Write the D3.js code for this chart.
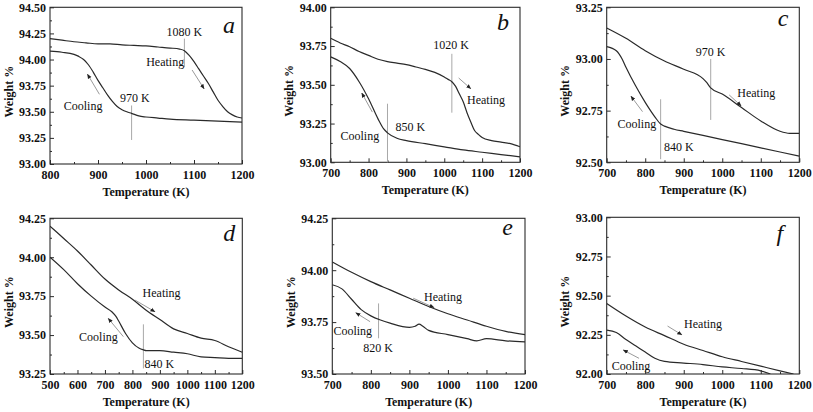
<!DOCTYPE html>
<html>
<head>
<meta charset="utf-8">
<script src="https://cdn.jsdelivr.net/npm/d3@7"></script>
<style>
  html, body { margin: 0; padding: 0; background: #fff; }
  svg { display: block; }
</style>
</head>
<body>
<svg id="chart" width="813" height="412"></svg>
<script>
// ---------------- DATA ----------------
const panelLetters = ['a', 'b', 'c', 'd', 'e', 'f'];
const xDomains = [[800, 1200], [700, 1200], [700, 1200], [500, 1200], [700, 1200], [700, 1200]];
const yDomains = [[93.0, 94.5], [93.0, 94.0], [92.5, 93.25], [93.25, 94.25], [93.5, 94.25], [92.0, 93.0]];
const xTicks = [
  [800, 900, 1000, 1100, 1200],
  [700, 800, 900, 1000, 1100, 1200],
  [700, 800, 900, 1000, 1100, 1200],
  [500, 600, 700, 800, 900, 1000, 1100, 1200],
  [700, 800, 900, 1000, 1100, 1200],
  [700, 800, 900, 1000, 1100, 1200]
];
const yTicks = [
  [93.0, 93.25, 93.5, 93.75, 94.0, 94.25, 94.5],
  [93.0, 93.25, 93.5, 93.75, 94.0],
  [92.5, 92.75, 93.0, 93.25],
  [93.25, 93.5, 93.75, 94.0, 94.25],
  [93.5, 93.75, 94.0, 94.25],
  [92.0, 92.25, 92.5, 92.75, 93.0]
];
const xTitle = 'Temperature (K)';
const yTitle = 'Weight %';
const heatText = 'Heating';
const coolText = 'Cooling';

// panel a
const aHeatT = [800, 825, 850, 875, 900, 925, 950, 975, 1000, 1025, 1050, 1070, 1080, 1090, 1100, 1110, 1120, 1130, 1140, 1150, 1160, 1170, 1180, 1190, 1200];
const aHeatW = [94.20, 94.185, 94.17, 94.16, 94.15, 94.15, 94.14, 94.135, 94.13, 94.12, 94.11, 94.10, 94.085, 94.04, 93.98, 93.91, 93.84, 93.77, 93.69, 93.61, 93.55, 93.50, 93.47, 93.45, 93.44];
const aCoolT = [800, 825, 850, 860, 870, 880, 890, 900, 910, 920, 930, 940, 950, 960, 970, 985, 1000, 1025, 1050, 1100, 1150, 1200];
const aCoolW = [94.08, 94.07, 94.05, 94.03, 94.00, 93.95, 93.88, 93.80, 93.73, 93.66, 93.60, 93.55, 93.52, 93.50, 93.485, 93.46, 93.45, 93.44, 93.43, 93.42, 93.41, 93.40];
// panel b
const bHeatT = [700, 725, 750, 775, 800, 825, 850, 875, 900, 925, 950, 975, 1000, 1010, 1020, 1030, 1040, 1050, 1060, 1070, 1080, 1090, 1100, 1125, 1150, 1175, 1200];
const bHeatW = [93.80, 93.77, 93.745, 93.715, 93.69, 93.665, 93.65, 93.64, 93.63, 93.615, 93.60, 93.58, 93.55, 93.535, 93.52, 93.49, 93.44, 93.39, 93.32, 93.26, 93.205, 93.18, 93.16, 93.14, 93.13, 93.12, 93.10];
const bCoolT = [700, 725, 750, 775, 800, 825, 840, 850, 875, 900, 950, 1000, 1050, 1100, 1150, 1200];
const bCoolW = [93.68, 93.65, 93.605, 93.52, 93.41, 93.28, 93.215, 93.19, 93.155, 93.14, 93.12, 93.10, 93.08, 93.065, 93.05, 93.035];
// panel c
const cHeatT = [700, 750, 800, 850, 900, 950, 960, 970, 1000, 1050, 1100, 1150, 1175, 1200];
const cHeatW = [93.15, 93.10, 93.04, 92.99, 92.95, 92.905, 92.885, 92.86, 92.83, 92.765, 92.70, 92.65, 92.64, 92.64];
const cCoolT = [700, 725, 740, 750, 775, 800, 825, 840, 850, 875, 900, 950, 1000, 1050, 1100, 1150, 1200];
const cCoolW = [93.06, 93.04, 93.00, 92.96, 92.87, 92.79, 92.72, 92.685, 92.675, 92.66, 92.65, 92.63, 92.61, 92.59, 92.57, 92.55, 92.53];
// panel d
const dHeatT = [500, 550, 600, 650, 700, 750, 800, 850, 900, 950, 1000, 1050, 1100, 1150, 1200];
const dHeatW = [94.20, 94.12, 94.04, 93.95, 93.86, 93.79, 93.73, 93.66, 93.60, 93.54, 93.51, 93.48, 93.465, 93.425, 93.39];
const dCoolT = [500, 550, 600, 650, 700, 725, 740, 750, 775, 800, 825, 840, 850, 900, 950, 1000, 1050, 1100, 1150, 1200];
const dCoolW = [94.00, 93.92, 93.83, 93.75, 93.68, 93.65, 93.62, 93.59, 93.51, 93.45, 93.415, 93.405, 93.40, 93.40, 93.39, 93.38, 93.36, 93.355, 93.35, 93.35];
// panel e
const eHeatT = [700, 750, 800, 850, 900, 950, 1000, 1050, 1100, 1150, 1200];
const eHeatW = [94.04, 93.99, 93.945, 93.905, 93.865, 93.825, 93.79, 93.76, 93.73, 93.705, 93.69];
const eCoolT = [700, 725, 750, 775, 800, 825, 850, 900, 915, 925, 935, 950, 1000, 1050, 1075, 1100, 1150, 1200];
const eCoolW = [93.93, 93.91, 93.86, 93.81, 93.78, 93.76, 93.745, 93.725, 93.73, 93.74, 93.73, 93.71, 93.69, 93.67, 93.66, 93.67, 93.66, 93.655];
// panel f
const fHeatT = [700, 750, 800, 850, 900, 950, 1000, 1050, 1100, 1150, 1185];
const fHeatW = [92.45, 92.37, 92.30, 92.245, 92.19, 92.15, 92.11, 92.08, 92.05, 92.02, 92.00];
const fCoolT = [700, 725, 750, 775, 800, 825, 850, 900, 950, 1000, 1050, 1100, 1125];
const fCoolW = [92.28, 92.265, 92.22, 92.18, 92.14, 92.10, 92.08, 92.07, 92.06, 92.045, 92.035, 92.02, 92.00];

const heatT = [aHeatT, bHeatT, cHeatT, dHeatT, eHeatT, fHeatT];
const heatW = [aHeatW, bHeatW, cHeatW, dHeatW, eHeatW, fHeatW];
const coolT = [aCoolT, bCoolT, cCoolT, dCoolT, eCoolT, fCoolT];
const coolW = [aCoolW, bCoolW, cCoolW, dCoolW, eCoolW, fCoolW];

// transition markers: [temperature, wLow, wHigh, label, labelT, labelW, anchor]
const markers = [
  [[1080, 93.93, 94.20, '1080 K', 1080, 94.267, 'middle'], [970, 93.23, 93.56, '970 K', 977, 93.635, 'middle']],
  [[1020, 93.32, 93.70, '1020 K', 1018, 93.756, 'middle'], [850, 93.00, 93.378, '850 K', 871, 93.23, 'start']],
  [[970, 92.705, 93.00, '970 K', 970, 93.035, 'middle'], [840, 92.515, 92.805, '840 K', 849, 92.576, 'start']],
  [[840, 93.286, 93.569, '840 K', 844, 93.314, 'start']],
  [[820, 93.672, 93.84, '820 K', 819, 93.627, 'middle']],
  []
];
// label positions [T, W, anchor] and arrows [T1, W1, T2, W2]
const heatLabels = [[1040, 93.98, 'middle'], [1060, 93.40, 'start'], [1039, 92.837, 'start'], [837, 93.77, 'start'], [938, 93.87, 'start'], [901, 92.323, 'start']];
const coolLabels = [[869, 93.555, 'middle'], [726, 93.173, 'start'], [728, 92.684, 'start'], [606, 93.49, 'start'], [703, 93.707, 'start'], [713, 92.051, 'start']];
const heatArrows = [[1096, 93.90, 1121, 93.72], [1038, 93.544, 1070, 93.475], [1018, 92.826, 1049, 92.773], [809, 93.725, 882, 93.65], [910, 93.865, 964, 93.82], [858, 92.306, 895, 92.25]];
const coolArrows = [[903, 93.667, 878, 93.86], [810, 93.324, 782, 93.447], [793, 92.745, 763, 92.82], [767, 93.49, 712, 93.607], [798, 93.752, 761, 93.795], [784, 92.10, 743, 92.153]];

// ---------------- LAYOUT ----------------
const layout = [
  {l: 50, r: 242, t: 7.3, b: 164},
  {l: 330.7, r: 520, t: 7.3, b: 162.3},
  {l: 606.7, r: 799.3, t: 7.3, b: 162.3},
  {l: 50, r: 242.3, t: 218.3, b: 374},
  {l: 332.3, r: 525, t: 218.3, b: 374},
  {l: 606.7, r: 799.3, t: 217.3, b: 374}
];
const letterPos = [[7, 26], [11, 23], [11, 19], [7, 23], [12, 17], [16, 24]];

const FONT = '"Liberation Serif"';
const INK = '#2a2a2a';
const svg = d3.select('#chart');

const defs = svg.append('defs');
defs.append('marker')
  .attr('id', 'ah').attr('viewBox', '0 0 10 10').attr('refX', 9).attr('refY', 5)
  .attr('markerWidth', 5).attr('markerHeight', 5).attr('orient', 'auto')
  .append('path').attr('d', 'M0,1 L10,5 L0,9 Z').attr('fill', '#222');

function styleText(sel, size, weight, italic) {
  sel.attr('font-family', null).style('font-family', FONT)
    .style('font-size', size + 'px').style('font-weight', weight || 'normal')
    .style('font-style', italic ? 'italic' : 'normal').attr('fill', '#111');
  return sel;
}

layout.forEach((L, i) => {
  const w = L.r - L.l, h = L.b - L.t;
  const x = d3.scaleLinear().domain(xDomains[i]).range([0, w]);
  const y = d3.scaleLinear().domain(yDomains[i]).range([h, 0]);
  const g = svg.append('g').attr('transform', `translate(${L.l},${L.t})`);

  defs.append('clipPath').attr('id', 'clip' + i)
    .append('rect').attr('x', 0).attr('y', 0).attr('width', w).attr('height', h);

  const xs = xTicks[i], ys = yTicks[i];
  const xMinor = xs.slice(0, -1).map((v, k) => (v + xs[k + 1]) / 2);
  const yMinor = ys.slice(0, -1).map((v, k) => (v + ys[k + 1]) / 2);

  const axes = g.append('g').attr('class', 'axes');
  axes.append('g').attr('transform', `translate(0,${h})`)
    .call(d3.axisBottom(x).tickValues(xs).tickSize(-4).tickPadding(6).tickSizeOuter(0).tickFormat(d3.format('d')));
  axes.append('g').attr('transform', `translate(0,${h})`)
    .call(d3.axisBottom(x).tickValues(xMinor).tickSize(-2).tickFormat('').tickSizeOuter(0));
  axes.append('g')
    .call(d3.axisLeft(y).tickValues(ys).tickSize(-4).tickPadding(4).tickSizeOuter(0).tickFormat(d3.format('.2f')));
  axes.append('g')
    .call(d3.axisLeft(y).tickValues(yMinor).tickSize(-2).tickFormat('').tickSizeOuter(0));

  axes.selectAll('g').attr('font-family', null).attr('font-size', null);
  axes.selectAll('.domain').remove();
  axes.selectAll('.tick line').attr('stroke', INK).attr('stroke-width', 1);
  styleText(axes.selectAll('.tick text'), 12, 'bold');

  g.append('rect').attr('x', 0).attr('y', 0).attr('width', w).attr('height', h)
    .attr('fill', 'none').attr('stroke', INK).attr('stroke-width', 1.1);

  markers[i].forEach(m => {
    g.append('line')
      .attr('x1', x(m[0])).attr('x2', x(m[0]))
      .attr('y1', y(m[1])).attr('y2', y(m[2]))
      .attr('stroke', '#a8a8a8').attr('stroke-width', 1);
    styleText(g.append('text').attr('x', x(m[4])).attr('y', y(m[5])).attr('dy', '0.35em')
      .attr('text-anchor', m[6]).text(m[3]), 12);
  });

  const line = d3.line().x(d => x(d[0])).y(d => y(d[1])).curve(d3.curveMonotoneX);
  const cl = g.append('g').attr('clip-path', `url(#clip${i})`);
  [[heatT[i], heatW[i]], [coolT[i], coolW[i]]].forEach(([T, W]) => {
    cl.append('path').datum(T.map((t, k) => [t, W[k]])).attr('d', line)
      .attr('fill', 'none').attr('stroke', INK).attr('stroke-width', 1.2);
  });

  [[heatLabels[i], heatText], [coolLabels[i], coolText]].forEach(([p, txt]) => {
    styleText(g.append('text').attr('x', x(p[0])).attr('y', y(p[1])).attr('dy', '0.35em')
      .attr('text-anchor', p[2]).text(txt), 12);
  });
  [heatArrows[i], coolArrows[i]].forEach(a => {
    g.append('line').attr('x1', x(a[0])).attr('y1', y(a[1])).attr('x2', x(a[2])).attr('y2', y(a[3]))
      .attr('stroke', '#9a9a9a').attr('stroke-width', 1).attr('marker-end', 'url(#ah)');
  });

  styleText(g.append('text').attr('x', w - letterPos[i][0]).attr('y', letterPos[i][1])
    .attr('text-anchor', 'end').text(panelLetters[i]), 24, 'normal', true);

  styleText(g.append('text').attr('x', w / 2).attr('y', h + 28).attr('dy', '0.35em')
    .attr('text-anchor', 'middle').text(xTitle), 12, 'bold');
  styleText(g.append('text').attr('transform', `translate(${-41.5},${h / 2 + 6}) rotate(-90)`)
    .attr('dy', '0.35em').attr('text-anchor', 'middle').text(yTitle), 12, 'bold');
});
</script>
</body>
</html>
